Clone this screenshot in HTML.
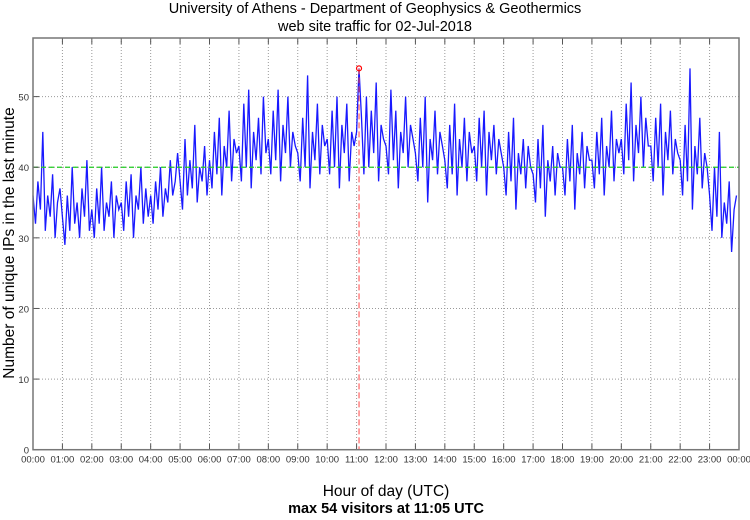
<!DOCTYPE html>
<html><head><meta charset="utf-8"><style>
body{margin:0;background:#fff;width:750px;height:515px;overflow:hidden;font-family:"Liberation Sans",sans-serif}
</style></head><body>
<svg id="chart" width="750" height="515" xmlns="http://www.w3.org/2000/svg" font-family="Liberation Sans, sans-serif">
<text x="375" y="13" font-size="14.5" text-anchor="middle">University of Athens - Department of Geophysics &amp; Geothermics</text>
<text x="375" y="31" font-size="14.5" text-anchor="middle">web site traffic for 02-Jul-2018</text>
<text transform="translate(14,243) rotate(-90)" font-size="15.5" text-anchor="middle">Number of unique IPs in the last minute</text>
<text x="386" y="496" font-size="15.5" text-anchor="middle">Hour of day (UTC)</text>
<text x="386" y="513" font-size="14.5" font-weight="bold" text-anchor="middle">max 54 visitors at 11:05 UTC</text>
<g id="grid"></g><g id="series"></g><g id="axes"></g>
</svg>
<script>
const hourLabels=["00:00","01:00","02:00","03:00","04:00","05:00","06:00","07:00","08:00","09:00","10:00","11:00","12:00","13:00","14:00","15:00","16:00","17:00","18:00","19:00","20:00","21:00","22:00","23:00","00:00"];
const yTicks=[0,10,20,30,40,50];
const refLevel=40;
const visitors=[
36,32,38,34,45,31,36,33,39,30,35,37,
33,29,36,31,40,32,35,30,37,33,41,31,
34,30,37,32,40,31,35,33,38,30,36,34,
35,31,38,33,39,30,36,34,40,32,37,33,
36,32,38,34,40,33,37,35,41,36,38,42,
38,34,44,36,41,37,46,35,40,38,43,36,
41,37,45,39,47,36,43,40,48,38,44,42,
43,38,49,40,51,37,45,41,47,39,50,42,
44,39,48,41,51,38,46,42,50,40,45,43,
42,38,47,40,53,37,45,41,49,39,46,43,
44,39,48,40,50,37,46,42,49,38,45,43,
45,54,47,39,50,40,48,42,52,38,46,44,
43,39,51,41,48,37,45,42,50,40,46,44,
42,38,47,40,50,35,44,41,48,39,45,43,
41,37,46,39,49,36,44,40,47,38,45,42,
43,38,47,40,48,36,45,41,46,39,44,42,
40,36,45,38,47,34,42,39,44,37,43,40,
39,35,44,37,46,33,41,38,43,36,42,40,
40,36,44,38,46,34,42,39,45,37,43,41,
41,37,45,39,47,36,43,40,48,38,44,42,
44,39,49,41,52,38,46,42,50,40,47,43,
43,38,47,40,49,36,45,41,48,39,44,42,
41,36,46,38,54,34,43,39,47,37,42,40,
36,31,40,33,45,30,35,32,38,28,34,36];
const minutesPerPoint=5;
const L=33,R=739,T=38,B=449.7,YMAX=58.3;
const NS="http://www.w3.org/2000/svg";
const xs=m=>L+(R-L)*m/1440;
const ys=v=>B-(B-T)*v/YMAX;
function mk(tag,attrs,parent){const e=document.createElementNS(NS,tag);for(const k in attrs)e.setAttribute(k,attrs[k]);parent.appendChild(e);return e;}
const grid=document.getElementById('grid'),ser=document.getElementById('series'),ax=document.getElementById('axes');
hourLabels.forEach((lab,i)=>{const x=xs(i*60);
 if(i>0&&i<24){const g=mk('line',{x1:x,x2:x,y1:T,y2:B,stroke:'#999','stroke-width':1,'stroke-dasharray':'1,2'},grid);
 
 }
 const tk=mk('line',{x1:x,x2:x,y1:B,y2:B-6,stroke:'#555','stroke-width':1},ax);
 
 
 const tk2=mk('line',{x1:x,x2:x,y1:T,y2:T+6,stroke:'#555','stroke-width':1},ax);
 
 
 const t=mk('text',{x:x,y:B+13,'font-size':9.5,'text-anchor':'middle',fill:'#333'},ax);t.textContent=lab;
 
 });
yTicks.forEach(v=>{const y=ys(v);
 if(v>0){const g=mk('line',{x1:L,x2:R,y1:y,y2:y,stroke:'#999','stroke-width':1,'stroke-dasharray':'1,2'},grid);
 
 }
 const tk=mk('line',{x1:L,x2:L+6,y1:y,y2:y,stroke:'#555'},ax);
 
 
 const t=mk('text',{x:L-4,y:y+4,'font-size':9.5,'text-anchor':'end',fill:'#333'},ax);t.textContent=v;
 
 });
const pts=visitors.map((v,i)=>xs(i*minutesPerPoint).toFixed(1)+','+ys(v).toFixed(1)).join(' ');
const pl=mk('polyline',{points:pts,fill:'none',stroke:'#0000ff','stroke-width':1.3,'stroke-opacity':0.9},ser);


const ref=mk('line',{x1:L,x2:R,y1:ys(refLevel),y2:ys(refLevel),stroke:'#22cc22','stroke-width':1.2,'stroke-dasharray':'5,3'},ser);


let mi=0;visitors.forEach((v,i)=>{if(v>visitors[mi])mi=i;});
const mx=xs(mi*minutesPerPoint),my=ys(visitors[mi]);
const vl=mk('line',{x1:mx,x2:mx,y1:my,y2:B,stroke:'#ff4444','stroke-width':1,'stroke-dasharray':'6,3'},ser);


const c=mk('circle',{cx:mx,cy:my,r:2.5,fill:'none',stroke:'#ff0000','stroke-width':1.2},ser);


const fr=mk('rect',{x:L,y:T,width:R-L,height:B-T,fill:'none',stroke:'#777','stroke-width':1.5},ax);


</script>
</body></html>
